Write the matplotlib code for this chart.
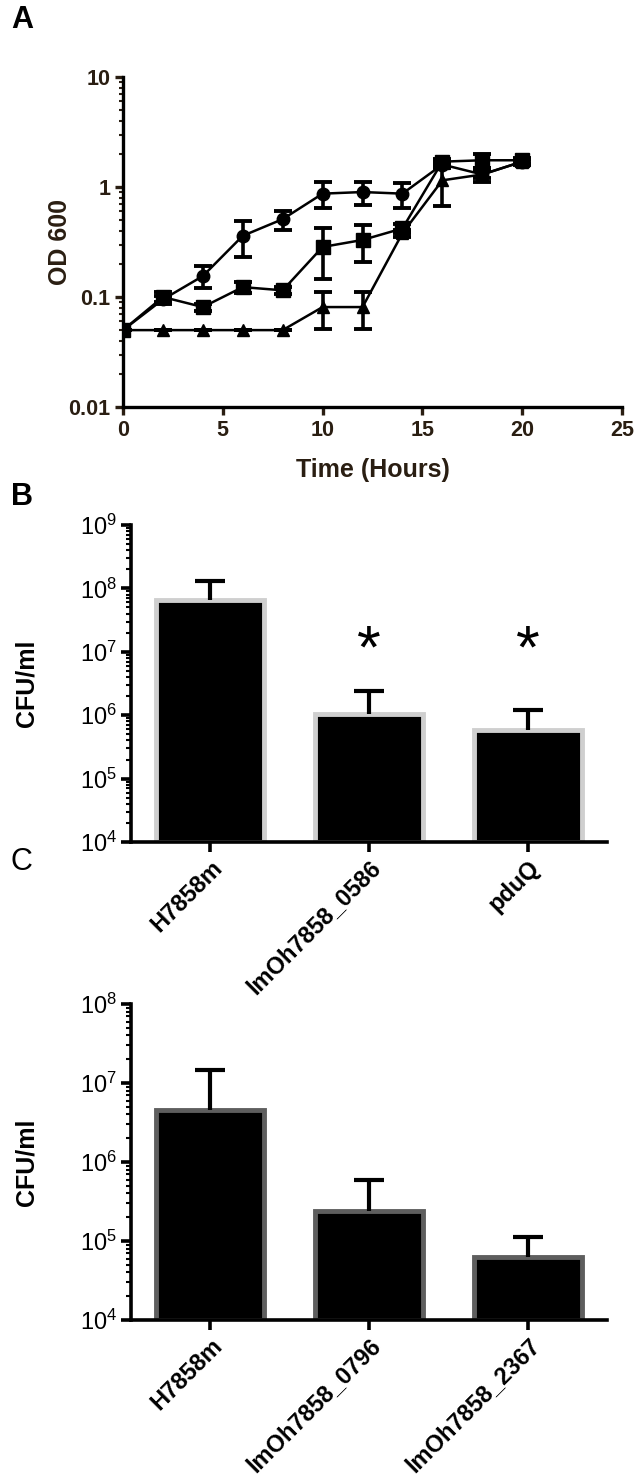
import numpy as np
import matplotlib.pyplot as plt
from matplotlib.ticker import LogLocator, NullFormatter, FixedLocator

plt.rcParams['font.family'] = ['Liberation Sans', 'DejaVu Sans']
plt.rcParams['mathtext.fontset'] = 'custom'
plt.rcParams['mathtext.rm'] = 'Liberation Sans'
plt.rcParams['mathtext.it'] = 'Liberation Sans:italic'
plt.rcParams['mathtext.bf'] = 'Liberation Sans:bold'

# Panel A: growth curves (OD 600)
time_h = [0, 2, 4, 6, 8, 10, 12, 14, 16, 18, 20]
od_circle = [0.05, 0.095, 0.155, 0.36, 0.51, 0.87, 0.90, 0.87, 1.60, 1.30, 1.70]
sd_circle = [0.0, 0.008, 0.035, 0.13, 0.10, 0.23, 0.22, 0.22, 0.10, 0.19, 0.10]
od_square = [0.05, 0.10, 0.081, 0.123, 0.115, 0.285, 0.33, 0.42, 1.70, 1.75, 1.75]
sd_square = [0.0, 0.01, 0.006, 0.015, 0.008, 0.14, 0.12, 0.04, 0.10, 0.25, 0.10]
od_triangle = [0.05, 0.05, 0.05, 0.05, 0.05, 0.081, 0.081, 0.38, 1.15, 1.30, 1.70]
sd_triangle = [0.0, 0.0, 0.0, 0.0, 0.0, 0.03, 0.03, 0.03, 0.48, 0.10, 0.08]
a_xticks = [0, 5, 10, 15, 20, 25]
a_yticks = [0.01, 0.1, 1, 10]
a_yticklabels = ['0.01', '0.1', '1', '10']

# Panel B
b_names = ['H7858m', 'lmOh7858_0586', 'pduQ']
b_cfu = [6.5e7, 1.06e6, 5.9e5]
b_err = [6.5e7, 1.34e6, 6.3e5]
b_star = [False, True, True]

# Panel C
c_names = ['H7858m', 'lmOh7858_0796', 'lmOh7858_2367']
c_cfu = [4.5e6, 2.4e5, 6.2e4]
c_err = [1.0e7, 3.6e5, 5.1e4]

text_a = '#2a1e12'

fig = plt.figure(figsize=(6.41, 14.79), dpi=100)
W, H = 641, 1479


def px_axes(x0, y0, x1, y1):
    return fig.add_axes([x0 / W, 1 - y1 / H, (x1 - x0) / W, (y1 - y0) / H])


# ---------- Panel A ----------
ax = px_axes(123, 77, 622, 407)
series = [(od_circle, sd_circle, 'o', 9),
          (od_square, sd_square, 's', 10),
          (od_triangle, sd_triangle, '^', 8.5)]
for vals, sd, mk, ms in series:
    ax.errorbar(time_h, vals, yerr=sd, color='black', marker=mk, markersize=ms,
                linewidth=1.8, elinewidth=2.6, capsize=6.5, capthick=2.8, zorder=3)
ax.set_yscale('log')
ax.set_ylim(0.01, 10)
ax.set_xlim(0, 25)
ax.set_xticks(a_xticks)
ax.set_yticks(a_yticks)
ax.set_yticklabels(a_yticklabels)
ax.yaxis.set_minor_locator(LogLocator(base=10, subs=np.arange(2, 10)))
ax.yaxis.set_minor_formatter(NullFormatter())
for s in ['top', 'right']:
    ax.spines[s].set_visible(False)
for s in ['left', 'bottom']:
    ax.spines[s].set_linewidth(2.4)
ax.tick_params(which='major', length=6, width=2.4, labelsize=15.5, colors=text_a, pad=3)
ax.tick_params(which='minor', length=3, width=1.5, colors=text_a)
for lab in ax.get_xticklabels() + ax.get_yticklabels():
    lab.set_fontweight('bold')
ax.set_xlabel('Time (Hours)', fontsize=18, fontweight='bold', color=text_a)
ax.xaxis.set_label_coords(0.5, -0.155)
ax.set_ylabel('OD 600', fontsize=18, fontweight='bold', color=text_a)
ax.yaxis.set_label_coords(-0.102, 0.5)


# ---------- Panels B and C ----------
def bar_panel(y0, y1, names, vals, errs, ylo, yhi, edge):
    ax = px_axes(131, y0, 607, y1)
    x = np.arange(len(names))
    heights = [v - ylo for v in vals]
    ax.bar(x, heights, bottom=ylo, width=0.68, color='black', edgecolor=edge,
           linewidth=3.5, zorder=2)
    eb = ax.errorbar(x, vals, yerr=[np.zeros(len(vals)), errs], fmt='none', ecolor='black',
                     elinewidth=3, capsize=10.5, capthick=3, zorder=3)
    # only the upper cap is shown
    eb[1][0].set_visible(False)
    ax.set_yscale('log')
    ax.set_ylim(ylo, yhi)
    ax.set_xlim(-0.5, 2.5)
    ax.set_xticks(x)
    ax.set_xticklabels(names, rotation=45, ha='right', rotation_mode='anchor',
                       fontsize=17, fontweight='bold')
    decades = np.arange(int(np.log10(ylo)), int(np.log10(yhi)) + 1)
    ax.yaxis.set_major_locator(FixedLocator(10.0 ** decades))
    ax.set_yticklabels([r'$10^{%d}$' % d for d in decades], fontsize=17)
    ax.yaxis.set_minor_locator(LogLocator(base=10, subs=np.arange(2, 10)))
    ax.yaxis.set_minor_formatter(NullFormatter())
    for s in ['top', 'right']:
        ax.spines[s].set_visible(False)
    for s in ['left', 'bottom']:
        ax.spines[s].set_linewidth(2.6)
    ax.tick_params(which='major', length=7, width=2.6, pad=3)
    ax.tick_params(which='minor', length=3.5, width=1.5)
    ax.set_ylabel('CFU/ml', fontsize=18, fontweight='bold')
    ax.yaxis.set_label_coords(-0.195, 0.5)
    return ax


axb = bar_panel(525, 842, b_names, b_cfu, b_err, 1e4, 1e9, '#cfcfcf')
for i, star in enumerate(b_star):
    if star:
        axb.text(i, 1.0e7, '*', fontsize=44, ha='center', va='center')

axc = bar_panel(1004, 1320, c_names, c_cfu, c_err, 1e4, 1e8, '#5e5e5e')

fig.text(22 / W, 1 - 20 / H, 'A', fontsize=22, fontweight='bold', ha='center', va='center')
fig.text(22 / W, 1 - 497 / H, 'B', fontsize=22, fontweight='bold', ha='center', va='center')
fig.text(21 / W, 1 - 862 / H, 'C', fontsize=22, ha='center', va='center')

fig.savefig('out.png', dpi=100)
